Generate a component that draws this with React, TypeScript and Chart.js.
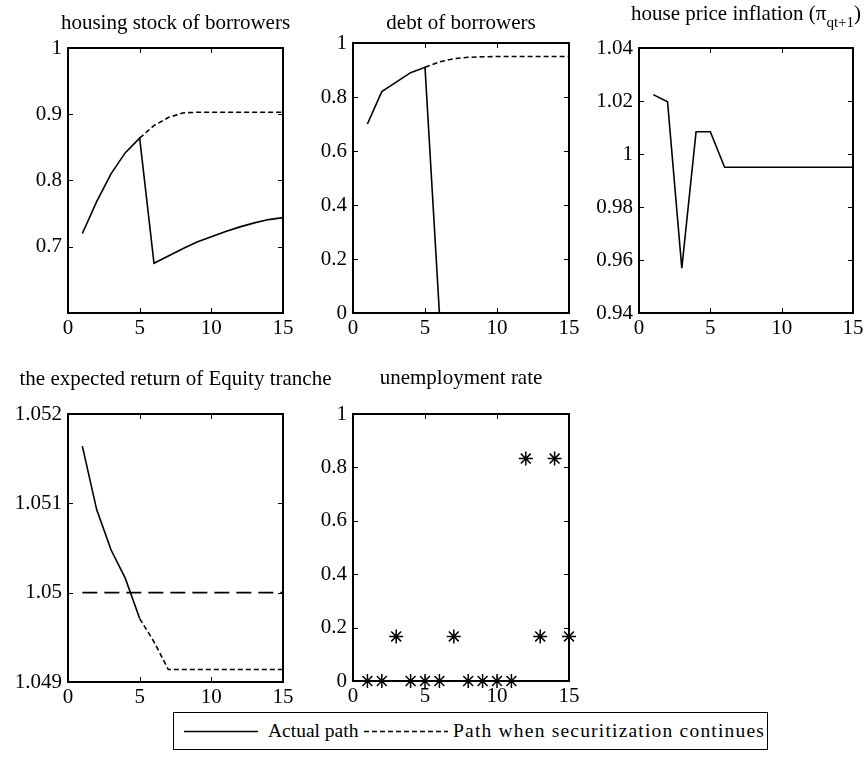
import React, { useEffect, useRef } from "react";
import { Chart, registerables } from "chart.js";

Chart.register(...registerables);

const SERIF = '"Liberation Serif", "Times New Roman", Times, serif';
const TICK_SIZE = 21;
const TITLE_SIZE = 21;

// horizon (periods after the start of the simulation)
const periods = [1, 2, 3, 4, 5, 6, 7, 8, 9, 10, 11, 12, 13, 14, 15];
const xTickValues = [0, 5, 10, 15];
const xTickLabels = ["0", "5", "10", "15"];

// housing stock of borrowers
const housingActual = [0.72, 0.768, 0.81, 0.842, 0.864, 0.675, 0.686, 0.697, 0.707, 0.715, 0.723, 0.73, 0.736, 0.741, 0.744];
const housingContinues = [null, null, null, null, 0.864, 0.883, 0.895, 0.902, 0.903, 0.903, 0.903, 0.903, 0.903, 0.903, 0.903];
const housingTicks = [0.7, 0.8, 0.9, 1];
const housingTickLabels = ["0.7", "0.8", "0.9", "1"];

// debt of borrowers
const debtActual = [0.7, 0.82, 0.855, 0.89, 0.91, 0, 0, 0, 0, 0, 0, 0, 0, 0, 0];
const debtContinues = [null, null, null, null, 0.91, 0.93, 0.942, 0.947, 0.949, 0.95, 0.95, 0.95, 0.95, 0.95, 0.95];
const debtTicks = [0, 0.2, 0.4, 0.6, 0.8, 1];
const debtTickLabels = ["0", "0.2", "0.4", "0.6", "0.8", "1"];

// house price inflation
const inflationActual = [1.0224, 1.0197, 0.9569, 1.0084, 1.0084, 0.995, 0.995, 0.995, 0.995, 0.995, 0.995, 0.995, 0.995, 0.995, 0.995];
const inflationTicks = [0.94, 0.96, 0.98, 1, 1.02, 1.04];
const inflationTickLabels = ["0.94", "0.96", "0.98", "1", "1.02", "1.04"];

// expected return of the equity tranche
const equityActual = [1.05164, 1.05093, 1.05048, 1.05016, 1.04971, null, null, null, null, null, null, null, null, null, null];
const equityContinues = [null, null, null, null, 1.04971, 1.04945, 1.04914, 1.04914, 1.04914, 1.04914, 1.04914, 1.04914, 1.04914, 1.04914, 1.04914];
const equityHurdle = [1.05, 1.05, 1.05, 1.05, 1.05, 1.05, 1.05, 1.05, 1.05, 1.05, 1.05, 1.05, 1.05, 1.05, 1.05];
const equityTicks = [1.049, 1.05, 1.051, 1.052];
const equityTickLabels = ["1.049", "1.05", "1.051", "1.052"];

// unemployment rate
const unemployment = [0, 0, 0.167, 0, 0, 0, 0.167, 0, 0, 0, 0, 0.833, 0.167, 0.833, 0.167];
const unemploymentTicks = [0, 0.2, 0.4, 0.6, 0.8, 1];
const unemploymentTickLabels = ["0", "0.2", "0.4", "0.6", "0.8", "1"];

const legendLabels = ["Actual path", "Path when securitization continues"];

const SHORT_DASH = [5, 3];
const LONG_DASH = [15, 7];

type Series = { values: (number | null)[]; dash?: number[]; star?: boolean };

interface PanelSpec {
  id: string;
  title: string;
  titleSub?: string;
  titleTail?: string;
  titleBaseline: number;
  box: { left: number; top: number; right: number; bottom: number };
  yMin: number;
  yMax: number;
  yTicks: number[];
  yTickLabels: string[];
  series: Series[];
}

const panels: PanelSpec[] = [
  {
    id: "housing",
    title: "housing stock of borrowers",
    titleBaseline: 29,
    box: { left: 68, top: 48, right: 283, bottom: 313 },
    yMin: 0.6,
    yMax: 1,
    yTicks: housingTicks,
    yTickLabels: housingTickLabels,
    series: [{ values: housingContinues, dash: SHORT_DASH }, { values: housingActual }],
  },
  {
    id: "debt",
    title: "debt of borrowers",
    titleBaseline: 29,
    box: { left: 353, top: 43, right: 569, bottom: 313 },
    yMin: 0,
    yMax: 1,
    yTicks: debtTicks,
    yTickLabels: debtTickLabels,
    series: [{ values: debtContinues, dash: SHORT_DASH }, { values: debtActual }],
  },
  {
    id: "inflation",
    title: "house price inflation (\u03c0",
    titleSub: "qt+1",
    titleTail: ")",
    titleBaseline: 20,
    box: { left: 639, top: 48, right: 853, bottom: 313 },
    yMin: 0.94,
    yMax: 1.04,
    yTicks: inflationTicks,
    yTickLabels: inflationTickLabels,
    series: [{ values: inflationActual }],
  },
  {
    id: "equity",
    title: "the expected return of Equity tranche",
    titleBaseline: 385,
    box: { left: 68, top: 414, right: 283, bottom: 682 },
    yMin: 1.049,
    yMax: 1.052,
    yTicks: equityTicks,
    yTickLabels: equityTickLabels,
    series: [
      { values: equityHurdle, dash: LONG_DASH },
      { values: equityContinues, dash: SHORT_DASH },
      { values: equityActual },
    ],
  },
  {
    id: "unemployment",
    title: "unemployment rate",
    titleBaseline: 384,
    box: { left: 353, top: 414, right: 569, bottom: 681 },
    yMin: 0,
    yMax: 1,
    yTicks: unemploymentTicks,
    yTickLabels: unemploymentTickLabels,
    series: [{ values: unemployment, star: true }],
  },
];

// Boxed axes with inward tick marks on all four sides.
const framePlugin = {
  id: "boxFrame",
  afterDraw(chart: any) {
    const { ctx, chartArea: a, scales } = chart;
    const tl = 5;
    ctx.save();
    ctx.strokeStyle = "#000";
    ctx.lineWidth = 1;
    ctx.beginPath();
    for (const t of scales.x.ticks) {
      const px = Math.round(scales.x.getPixelForValue(t.value)) + 0.5;
      ctx.moveTo(px, a.bottom);
      ctx.lineTo(px, a.bottom - tl);
      ctx.moveTo(px, a.top);
      ctx.lineTo(px, a.top + tl);
    }
    for (const t of scales.y.ticks) {
      const py = Math.round(scales.y.getPixelForValue(t.value)) + 0.5;
      ctx.moveTo(a.left, py);
      ctx.lineTo(a.left + tl, py);
      ctx.moveTo(a.right, py);
      ctx.lineTo(a.right - tl, py);
    }
    ctx.stroke();
    ctx.lineWidth = 2;
    ctx.strokeRect(a.left, a.top, a.right - a.left, a.bottom - a.top);
    ctx.restore();
  },
};

// Title centred over the plot box, with an optional subscript part.
const titlePlugin = {
  id: "panelTitle",
  afterDraw(chart: any, _args: any, opts: any) {
    const { ctx, chartArea: a } = chart;
    const main = `${TITLE_SIZE}px ${SERIF}`;
    const small = `${Math.round(TITLE_SIZE * 0.7)}px ${SERIF}`;
    ctx.save();
    ctx.fillStyle = "#000";
    ctx.textAlign = "left";
    ctx.textBaseline = "alphabetic";
    ctx.font = main;
    const w1 = ctx.measureText(opts.text).width;
    let w2 = 0;
    let w3 = 0;
    if (opts.sub) {
      ctx.font = small;
      w2 = ctx.measureText(opts.sub).width;
      ctx.font = main;
      w3 = ctx.measureText(opts.tail || "").width;
    }
    let x = (a.left + a.right) / 2 - (w1 + w2 + w3) / 2;
    const y = opts.baseline;
    ctx.font = main;
    ctx.fillText(opts.text, x, y);
    x += w1;
    if (opts.sub) {
      ctx.font = small;
      ctx.fillText(opts.sub, x, y + 7);
      x += w2;
      ctx.font = main;
      ctx.fillText(opts.tail || "", x, y);
    }
    ctx.restore();
  },
};

const PAD_L = 72;
const PAD_T = 50;
const PAD_R = 64;
const PAD_B = 36;

function Panel({ spec }: { spec: PanelSpec }) {
  const ref = useRef<HTMLCanvasElement>(null);
  const { left, top, right, bottom } = spec.box;
  const cw = right - left + PAD_L + PAD_R;
  const ch = bottom - top + PAD_T + PAD_B;
  const cLeft = left - PAD_L;
  const cTop = top - PAD_T;

  useEffect(() => {
    const tickFont = { family: SERIF, size: TICK_SIZE };
    const chart = new Chart(ref.current as HTMLCanvasElement, {
      type: "line",
      data: {
        datasets: spec.series.map((s) => ({
          data: periods.map((p, i) => ({ x: p, y: s.values[i] })),
          borderColor: "#000",
          backgroundColor: "#000",
          borderWidth: s.star ? 1.4 : 1.6,
          borderDash: s.dash ?? [],
          showLine: !s.star,
          pointRadius: s.star ? 7 : 0,
          pointStyle: s.star ? "star" : "circle",
          pointBorderColor: "#000",
          pointBorderWidth: 1.5,
          clip: false,
          tension: 0,
          spanGaps: false,
        })),
      },
      options: {
        animation: false,
        responsive: false,
        devicePixelRatio: 1,
        events: [],
        layout: { padding: { top: PAD_T, right: PAD_R, left: 0, bottom: 0 } },
        plugins: {
          legend: { display: false },
          tooltip: { enabled: false },
          title: { display: false },
          panelTitle: {
            text: spec.title,
            sub: spec.titleSub,
            tail: spec.titleTail,
            baseline: spec.titleBaseline - cTop,
          },
        } as any,
        scales: {
          x: {
            type: "linear",
            min: 0,
            max: 15,
            grid: { display: false, drawTicks: false },
            border: { display: false },
            afterBuildTicks: (s: any) => {
              s.ticks = xTickValues.map((v) => ({ value: v }));
            },
            afterFit: (s: any) => {
              s.height = PAD_B;
            },
            ticks: {
              autoSkip: false,
              maxRotation: 0,
              padding: 3,
              color: "#000",
              font: tickFont,
              callback: (_v: any, i: number) => xTickLabels[i],
            },
          },
          y: {
            type: "linear",
            min: spec.yMin,
            max: spec.yMax,
            grid: { display: false, drawTicks: false },
            border: { display: false },
            afterBuildTicks: (s: any) => {
              s.ticks = spec.yTicks.map((v) => ({ value: v }));
            },
            afterFit: (s: any) => {
              s.width = PAD_L;
            },
            ticks: {
              autoSkip: false,
              padding: 6,
              color: "#000",
              font: tickFont,
              callback: (_v: any, i: number) => spec.yTickLabels[i],
            },
          },
        },
      },
      plugins: [framePlugin, titlePlugin],
    });
    return () => chart.destroy();
  }, []);

  return (
    <canvas
      ref={ref}
      width={cw}
      height={ch}
      style={{ position: "absolute", left: cLeft, top: cTop, width: cw, height: ch }}
    />
  );
}

function Legend() {
  return (
    <div
      style={{
        position: "absolute",
        left: 173,
        top: 712,
        width: 595,
        height: 38,
        border: "1.3px solid #000",
        boxSizing: "border-box",
        background: "#fff",
        fontFamily: SERIF,
        fontSize: 19.5,
        color: "#000",
      }}
    >
      <svg width={593} height={36} style={{ position: "absolute", left: 0, top: 0 }}>
        <line x1={10} y1={18.5} x2={84} y2={18.5} stroke="#000" strokeWidth={1.4} />
        <line x1={190} y1={18.5} x2={274} y2={18.5} stroke="#000" strokeWidth={1.4} strokeDasharray="5 3" />
      </svg>
      <span style={{ position: "absolute", left: 94, top: 0, lineHeight: "36px", whiteSpace: "nowrap" }}>
        {legendLabels[0]}
      </span>
      <span
        style={{ position: "absolute", left: 279, top: 0, lineHeight: "36px", whiteSpace: "nowrap", letterSpacing: 1.2 }}
      >
        {legendLabels[1]}
      </span>
    </div>
  );
}

export default function App() {
  return (
    <div style={{ position: "absolute", left: 0, top: 0, width: 865, height: 759, background: "#fff", overflow: "hidden" }}>
      {panels.map((p) => (
        <Panel key={p.id} spec={p} />
      ))}
      <Legend />
    </div>
  );
}
